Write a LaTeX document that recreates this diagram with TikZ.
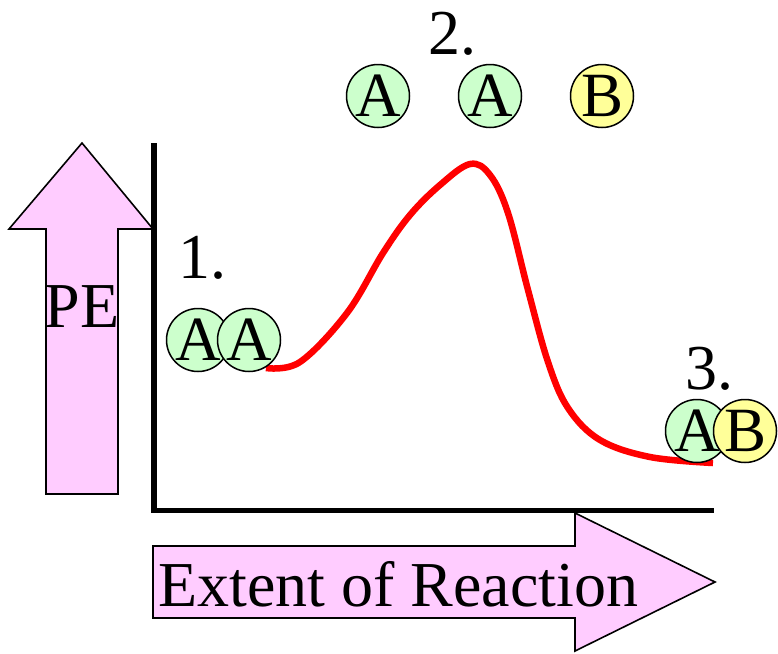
\documentclass[tikz,border=0pt]{standalone}
\usepackage{fontspec}
\setmainfont{Liberation Serif}
\definecolor{pinkfill}{HTML}{FFCCFF}
\definecolor{greenfill}{HTML}{CCFFCC}
\definecolor{yellowfill}{HTML}{FFFF99}
\definecolor{curvered}{HTML}{FF0000}
\begin{document}
\begin{tikzpicture}[x=1pt,y=-1pt,
  bigtext/.style={font=\fontsize{64}{64}\selectfont, inner sep=0pt},
  atom/.style={circle, draw=black, line width=1.5pt, minimum size=63pt, inner sep=0pt, font=\fontsize{63}{63}\selectfont},
  atomA/.style={atom, fill=greenfill},
  atomB/.style={atom, fill=yellowfill},
  bigarrow/.style={draw=black, line width=1.6pt, fill=pinkfill, line join=miter},
  axisline/.style={line width=5.5pt, line join=miter, line cap=butt},
  energy/.style={draw=curvered, line width=6.5pt, line cap=butt}]
\useasboundingbox (0,0) rectangle (778,653);
% PE arrow (up)
\draw[bigarrow] (46,494) -- (46,229) -- (9,229) -- (82,143) -- (153,229) -- (118,229) -- (118,494) -- cycle;
\node[bigtext, anchor=base] (pe) at (82,327) {PE};
% Extent arrow (right)
\draw[bigarrow] (153,546) -- (575,546) -- (575,513) -- (715,582) -- (575,651) -- (575,618) -- (153,618) -- cycle;
\node[bigtext, anchor=base west] (ext) at (158,606) {Extent of Reaction};
% axes
\coordinate (ytop) at (154,143);
\coordinate (origin) at (154,510.5);
\coordinate (xend) at (714,510.5);
\draw[axisline] (ytop) -- (origin) -- (xend);
% energy curve
\draw[energy] plot[smooth, tension=0.6] coordinates {(266,368) (300,362) (347,313) (383,253) (410,215) (440,185) (470,164) (490,175) (508,213) (528,290) (548,362) (568,408) (600,440) (650,457) (713,463)};
% stage 1
\node[bigtext, anchor=base west] (l1) at (178,278) {1.};
\node[atomA] (a1) at (198,340) {A};
\node[atomA] (a2) at (249,340) {A};
% stage 2
\node[bigtext, anchor=base west] (l2) at (428,54) {2.};
\node[atomA] (a3) at (378,96) {A};
\node[atomA] (a4) at (490,96) {A};
\node[atomB] (b1) at (602,96) {B};
% stage 3
\node[bigtext, anchor=base west] (l3) at (685,389) {3.};
\node[atomA] (a5) at (697,431) {A};
\node[atomB] (b2) at (745,431) {B};
\end{tikzpicture}
\end{document}
